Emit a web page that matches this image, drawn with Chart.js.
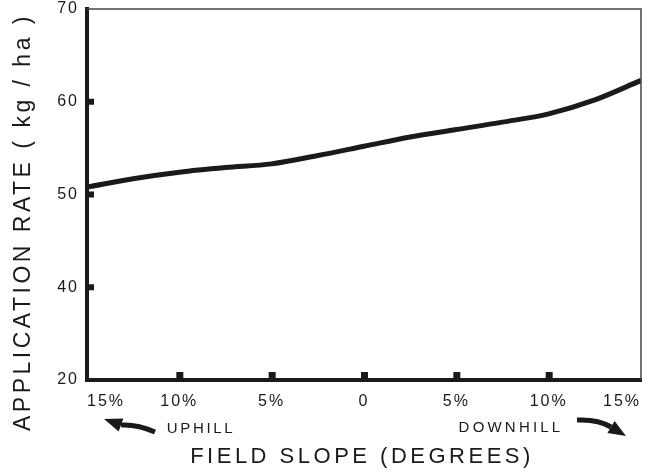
<!DOCTYPE html>
<html>
<head>
<meta charset="utf-8">
<script src="https://cdn.jsdelivr.net/npm/chart.js@4"></script>
<style>
html,body{margin:0;padding:0;background:#fff;}
#wrap{width:647px;height:470px;}
</style>
</head>
<body>
<div id="wrap"><canvas id="c" width="647" height="470"></canvas></div>
<script>
const slopeValues = [-15, -12.5, -10, -7.5, -5, -2.5, 0, 2.5, 5, 7.5, 10, 12.5, 15];
const applicationRate = [50.8, 51.7, 52.4, 52.9, 53.3, 54.2, 55.2, 56.2, 57.0, 57.8, 58.7, 60.2, 62.3];
const xTickValues = [-15, -10, -5, 0, 5, 10, 15];
const xTickLabels = ['15%', '10%', '5%', '0', '5%', '10%', '15%'];
const yTickValues = [30, 40, 50, 60, 70];
const yTickLabels = ['20', '40', '50', '60', '70'];
const yTitle = 'APPLICATION RATE ( kg / ha )';
const xTitle = 'FIELD SLOPE (DEGREES)';
const leftNote = 'UPHILL';
const rightNote = 'DOWNHILL';

const INK = '#1a1a1a';
const FONT = '"Liberation Sans", Arial, sans-serif';

function arrow(ctx, tail, ctrl, end, tip, hw) {
  ctx.save();
  ctx.strokeStyle = INK; ctx.fillStyle = INK;
  ctx.lineWidth = 5; ctx.lineCap = 'butt';
  ctx.beginPath();
  ctx.moveTo(tail[0], tail[1]);
  ctx.quadraticCurveTo(ctrl[0], ctrl[1], end[0], end[1]);
  ctx.stroke();
  const dx = tip[0] - end[0], dy = tip[1] - end[1];
  const L = Math.hypot(dx, dy);
  const px = -dy / L, py = dx / L;
  ctx.beginPath();
  ctx.moveTo(tip[0], tip[1]);
  ctx.lineTo(end[0] + px * hw, end[1] + py * hw);
  ctx.lineTo(end[0] - px * hw, end[1] - py * hw);
  ctx.closePath();
  ctx.fill();
  ctx.restore();
}

const deco = {
  id: 'deco',
  beforeDraw(chart) {
    chart.ctx.letterSpacing = '2px';
  },
  afterDraw(chart) {
    const ctx = chart.ctx;
    const a = chart.chartArea;
    const xs = chart.scales.x, ys = chart.scales.y;
    ctx.save();
    ctx.strokeStyle = '#444';
    ctx.lineWidth = 1.5;
    ctx.beginPath();
    ctx.moveTo(a.left, a.top);
    ctx.lineTo(a.right, a.top);
    ctx.lineTo(a.right, a.bottom);
    ctx.stroke();
    ctx.fillStyle = INK;
    yTickValues.slice(1, -1).forEach(v => {
      const py = ys.getPixelForValue(v);
      ctx.fillRect(a.left, py - 3, 7, 6);
    });
    xTickValues.slice(1, -1).forEach(v => {
      const px = xs.getPixelForValue(v);
      ctx.fillRect(px - 3, a.bottom - 8, 7, 8);
    });
    ctx.fillStyle = INK;
    ctx.textAlign = 'center';
    ctx.textBaseline = 'middle';
    ctx.letterSpacing = '3.5px';
    ctx.font = '23px ' + FONT;
    ctx.save();
    ctx.translate(24, 222);
    ctx.rotate(-Math.PI / 2);
    ctx.fillText(yTitle, 0, 0);
    ctx.restore();
    ctx.font = '22px ' + FONT;
    ctx.letterSpacing = '3.5px';
    ctx.fillText(xTitle, 362, 457);
    ctx.font = '15px ' + FONT;
    ctx.letterSpacing = '2.7px';
    ctx.fillText(leftNote, 201, 429);
    ctx.letterSpacing = '3.2px';
    ctx.fillText(rightNote, 511, 428);
    ctx.restore();
    arrow(ctx, [155, 432], [137, 424], [121, 425], [104, 419], 7);
    arrow(ctx, [577, 420], [598, 419], [611, 427], [626, 436], 7);
  }
};

new Chart(document.getElementById('c'), {
  type: 'line',
  data: {
    datasets: [{
      data: slopeValues.map((x, i) => ({ x: x, y: applicationRate[i] })),
      borderColor: INK,
      borderWidth: 5,
      pointRadius: 0,
      tension: 0.4,
      cubicInterpolationMode: 'monotone',
      fill: false
    }]
  },
  options: {
    responsive: false,
    animation: false,
    devicePixelRatio: 1,
    layout: { padding: { left: 0, right: 6, top: 9, bottom: 0 } },
    plugins: { legend: { display: false }, tooltip: { enabled: false } },
    scales: {
      x: {
        type: 'linear',
        min: -15, max: 15,
        afterFit(s) { s.height = 90; s.paddingLeft = 0; s.paddingRight = 0; },
        afterBuildTicks(s) { s.ticks = xTickValues.map(v => ({ value: v })); },
        grid: { display: true, drawOnChartArea: false, drawTicks: false },
        border: { display: true, color: INK, width: 4 },
        ticks: {
          align: 'inner',
          padding: 12,
          color: INK,
          font: { family: FONT, size: 16 },
          callback: (v) => { const i = xTickValues.indexOf(v); return i >= 0 ? xTickLabels[i] : ''; }
        }
      },
      y: {
        type: 'linear',
        min: 30, max: 70,
        afterFit(s) { s.width = 87; s.paddingTop = 0; s.paddingBottom = 0; },
        afterBuildTicks(s) { s.ticks = yTickValues.map(v => ({ value: v })); },
        grid: { display: true, drawOnChartArea: false, drawTicks: false },
        border: { display: true, color: INK, width: 4 },
        ticks: {
          padding: 8,
          color: INK,
          font: { family: FONT, size: 16 },
          callback: (v) => { const i = yTickValues.indexOf(v); return i >= 0 ? yTickLabels[i] : ''; }
        }
      }
    }
  },
  plugins: [deco]
});
</script>
</body>
</html>
